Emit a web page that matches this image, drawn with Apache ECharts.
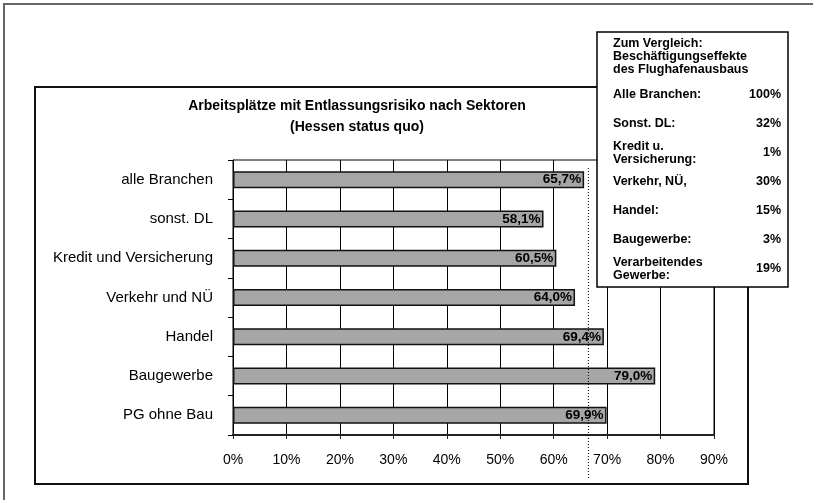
<!DOCTYPE html>
<html>
<head>
<meta charset="utf-8">
<script src="https://cdn.jsdelivr.net/npm/echarts@6/dist/echarts.min.js"></script>
<style>
  html, body { margin: 0; padding: 0; background: #fff; }
  #chart { width: 813px; height: 500px; }
</style>
</head>
<body>
<div id="chart"></div>
<script>
var categories = ['alle Branchen', 'sonst. DL', 'Kredit und Versicherung', 'Verkehr und NÜ', 'Handel', 'Baugewerbe', 'PG ohne Bau'];
var values = [65.7, 58.1, 60.5, 64.0, 69.4, 79.0, 69.9];
var xMin = 0, xMax = 90, xStep = 10;
var refLine = 66.5;
var compareHead = 'Zum Vergleich:\nBeschäftigungseffekte\ndes Flughafenausbaus';
var compareLabels = ['Alle Branchen:', 'Sonst. DL:', 'Kredit u.\nVersicherung:', 'Verkehr, NÜ,', 'Handel:', 'Baugewerbe:', 'Verarbeitendes\nGewerbe:'];
var compareValues = ['100%', '32%', '1%', '30%', '15%', '3%', '19%'];

var font = "'Liberation Sans', Arial, sans-serif";
var myChart = echarts.init(document.getElementById('chart'));

// kasten rechts oben
var boxX = 597, boxY = 32, boxW = 191, boxH = 255;
var boxEls = [
  { type: 'rect', shape: { x: boxX, y: boxY, width: boxW, height: boxH }, style: { fill: '#fff', stroke: '#000', lineWidth: 1.5 }, z: 100 },
  { type: 'text', x: 613, y: 37, style: { text: compareHead, font: 'bold 12.5px ' + font, fill: '#000', lineHeight: 13 }, z: 101 }
];
compareLabels.forEach(function (lbl, i) {
  var cy = 95 + i * 29;
  boxEls.push({ type: 'text', x: 613, y: cy, style: { text: lbl, font: 'bold 12.5px ' + font, fill: '#000', verticalAlign: 'middle', lineHeight: 13 }, z: 101 });
  boxEls.push({ type: 'text', x: 781, y: cy, style: { text: compareValues[i], font: 'bold 12.5px ' + font, fill: '#000', align: 'right', verticalAlign: 'middle' }, z: 101 });
});

var option = {
  animation: false,
  textStyle: { fontFamily: font },
  title: {
    text: 'Arbeitsplätze mit Entlassungsrisiko nach Sektoren\n(Hessen status quo)',
    left: 352, top: 91, textAlign: 'center',
    textStyle: { fontSize: 14, fontWeight: 'bold', color: '#000', lineHeight: 21, fontFamily: font }
  },
  grid: { left: 233, top: 160, width: 481, height: 275, show: true, borderColor: '#000', borderWidth: 1 },
  xAxis: {
    type: 'value', min: xMin, max: xMax, interval: xStep,
    axisLine: { show: true, lineStyle: { color: '#222', width: 2 } },
    axisTick: { show: true, length: 4, lineStyle: { color: '#222' } },
    axisLabel: { margin: 18, fontSize: 14, color: '#000', formatter: '{value}%' },
    splitLine: { show: true, lineStyle: { color: '#000', width: 1 } }
  },
  yAxis: {
    type: 'category', data: categories, inverse: true,
    axisLine: { show: true, lineStyle: { color: '#000', width: 1 } },
    axisTick: { show: true, length: 5, lineStyle: { color: '#000' } },
    axisLabel: { margin: 20, fontSize: 15, color: '#000' }
  },
  series: [{
    type: 'bar', data: values, barWidth: 17,
    itemStyle: { color: '#a6a6a6', borderColor: '#111', borderWidth: 1.5 },
    label: {
      show: true, position: 'insideRight', distance: 3,
      fontSize: 13.5, fontWeight: 'bold', color: '#000',
      formatter: function (p) { return p.value.toFixed(1).replace('.', ',') + '%'; }
    }
  }],
  graphic: []
};
myChart.setOption(option);

var refX = myChart.convertToPixel({ xAxisIndex: 0 }, refLine);
var frames = [
  { type: 'rect', shape: { x: 4, y: 4, width: 900, height: 600 }, style: { fill: 'none', stroke: '#666', lineWidth: 2 }, silent: true },
  { type: 'rect', shape: { x: 35, y: 87, width: 713, height: 397 }, style: { fill: 'none', stroke: '#111', lineWidth: 2 }, silent: true },
  { type: 'line', shape: { x1: refX, y1: 168, x2: refX, y2: 478 }, style: { stroke: '#000', lineWidth: 1, lineDash: [1, 2] }, z: 50 }
];
myChart.setOption({ graphic: frames.concat(boxEls) });
</script>
</body>
</html>
